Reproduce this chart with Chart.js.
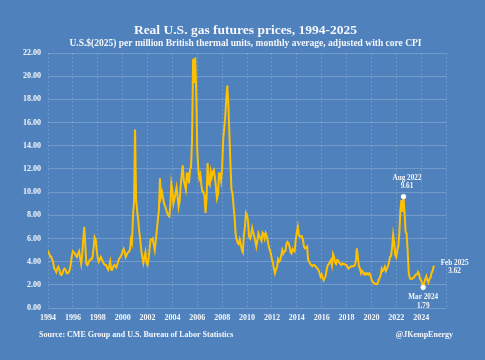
<!DOCTYPE html>
<html><head><meta charset="utf-8">
<script src="https://cdn.jsdelivr.net/npm/chart.js@4/dist/chart.umd.min.js"></script>
<style>html,body{margin:0;padding:0;background:#4F81BD;}#wrap{width:485px;height:360px;}</style>
</head><body><div id="wrap"><canvas id="c" width="485" height="360"></canvas></div>
<script>
const startYear = 1994;
const prices1994to1999 = [
  4.95, 4.7, 4.45, 4.45, 4.2, 3.9, 3.4, 3.3, 3.1, 3.4, 3.55, 3.3,
  2.9, 2.85, 3.0, 3.3, 3.4, 3.3, 3.0, 3.0, 3.1, 3.3, 3.8, 4.5,
  4.9, 4.8, 4.7, 4.5, 4.4, 4.7, 4.9, 4.3, 3.8, 4.6, 5.9, 7.0,
  5.4, 3.8, 3.7, 3.9, 4.1, 4.2, 4.2, 4.4, 5.2, 6.1, 5.9, 5.0,
  4.3, 4.0, 4.2, 4.4, 4.2, 4.0, 3.8, 3.7, 3.7, 3.5, 3.3, 3.6,
  4.0, 3.3, 3.3, 3.6, 3.7, 3.6, 3.5, 3.8, 4.1, 4.3, 4.4, 4.6
];
const prices2000to2009 = [
  4.9, 5.1, 4.8, 4.4, 4.6, 4.8, 4.85, 5.0, 5.9, 5.6, 7.9, 9.2,
  15.4, 9.3, 8.4, 7.6, 6.6, 5.9, 5.0, 4.4, 3.9, 4.4, 4.8, 3.9,
  3.7, 4.2, 5.1, 5.9, 5.9, 6.0, 5.5, 5.0, 5.8, 6.7, 7.6, 8.45,
  11.2, 9.6, 10.0, 9.5, 9.0, 8.8, 8.5, 8.2, 8.0, 7.9, 8.8, 10.75,
  10.2, 9.0, 9.4, 9.9, 10.4, 9.6, 8.7, 9.2, 10.5, 11.5, 12.3, 11.0,
  10.6, 10.2, 11.6, 11.6, 10.75, 11.9, 12.2, 14.5, 21.5, 19.4, 21.6, 18.8,
  13.6, 12.0, 11.2, 11.5, 10.6, 10.0, 10.0, 9.7, 8.2, 9.5, 12.5, 10.75,
  10.6, 11.75, 11.3, 11.75, 11.9, 11.3, 10.45, 9.45, 9.8, 11.6, 11.6, 11.0,
  12.0, 14.5, 15.5, 16.5, 18.0, 19.2, 17.5, 15.05, 12.5, 10.2, 9.9, 8.8,
  7.9, 6.4, 5.9, 5.6, 5.5, 5.9, 5.5, 5.0, 4.8, 6.3, 7.0, 8.2
];
const prices2010to2019 = [
  8.0, 7.5, 6.15, 6.0, 6.3, 6.9, 6.5, 6.2, 5.8, 5.3, 5.8, 6.45,
  6.2, 6.0, 5.8, 6.5, 6.4, 6.0, 6.45, 6.2, 5.8, 5.3, 5.0, 4.7,
  4.2, 3.85, 3.4, 3.0, 3.3, 3.56, 4.2, 4.0, 4.1, 4.5, 5.0, 4.7,
  4.9, 4.9, 5.5, 5.7, 5.6, 5.3, 4.8, 4.7, 5.1, 5.0, 4.9, 5.86,
  6.5, 7.0, 6.3, 6.15, 6.2, 6.2, 5.86, 5.3, 5.14, 5.2, 5.3, 4.14,
  4.0, 3.8, 3.7, 3.6, 3.7, 3.7, 3.6, 3.5, 3.4, 3.28, 3.0, 2.7,
  2.9, 2.6, 2.4, 2.6, 2.8, 3.4, 3.7, 3.8, 4.0, 4.14, 3.7, 4.65,
  4.4, 3.9, 3.8, 4.14, 4.1, 3.9, 3.8, 3.7, 3.85, 3.8, 3.8, 3.7,
  3.7, 3.5, 3.4, 3.5, 3.56, 3.6, 3.6, 3.6, 3.7, 4.0, 5.14, 4.4,
  3.6, 3.4, 3.0, 3.2, 3.1, 2.9, 3.0, 2.9, 3.0, 2.9, 3.0, 2.85
];
const prices2020to2025 = [
  2.5, 2.27, 2.2, 2.1, 2.1, 2.05, 2.1, 2.4, 2.6, 2.85, 3.4, 3.2,
  3.3, 3.56, 3.2, 3.4, 3.6, 3.97, 4.4, 4.5, 5.2, 6.3, 5.6, 4.6,
  4.4, 5.0, 5.3, 6.5, 8.45, 9.3, 8.3, 9.61, 8.2, 6.6, 6.4, 5.0,
  3.1, 2.6, 2.5, 2.5, 2.6, 2.6, 2.8, 2.9, 2.9, 3.1, 2.9, 2.5,
  2.4, 2.1, 1.79, 2.2, 2.5, 2.75, 2.4, 2.2, 2.5, 2.6, 3.0, 3.2,
  3.56, 3.62
];
const monthNames = ['Jan','Feb','Mar','Apr','May','Jun','Jul','Aug','Sep','Oct','Nov','Dec'];
const callouts = [
  {month: 'Aug', year: 2022, pos: 'above'},
  {month: 'Mar', year: 2024, pos: 'below'},
  {month: 'Feb', year: 2025, pos: 'right'}
];
const titleText = 'Real U.S. gas futures prices, 1994-2025';
const subtitleText = 'U.S.$(2025) per million British thermal units, monthly average, adjusted with core CPI';
const sourceText = 'Source: CME Group and U.S. Bureau of Labor Statistics';
const handleText = '@JKempEnergy';

const allPrices = [].concat(prices1994to1999, prices2000to2009, prices2010to2019, prices2020to2025);
const points = allPrices.map((v, i) => ({x: startYear + i / 12, y: v}));
function idxOf(c) { return (c.year - startYear) * 12 + monthNames.indexOf(c.month); }
const markerPoints = callouts.filter(c => c.pos !== 'right').map(c => points[idxOf(c)]);

const TXT = '#F4F6FA';
const SERIF = '"Liberation Serif", "DejaVu Serif", serif';

const textPlugin = {
  id: 'texts',
  afterDraw(chart) {
    const ctx = chart.ctx;
    const xs = chart.scales.x, ys = chart.scales.y;
    ctx.save();
    ctx.fillStyle = TXT;
    ctx.textAlign = 'center';
    ctx.textBaseline = 'middle';
    ctx.font = 'bold 13.5px ' + SERIF;
    ctx.fillText(titleText, 245.5, 30.5);
    ctx.font = 'bold 9.5px ' + SERIF;
    ctx.fillText(subtitleText, 245.5, 43.5);
    ctx.font = 'bold 8px ' + SERIF;
    ctx.textAlign = 'left';
    ctx.fillText(sourceText, 39, 335);
    ctx.textAlign = 'right';
    ctx.fillText(handleText, 453, 335);
    ctx.font = 'bold 7.2px ' + SERIF;
    ctx.textAlign = 'center';
    callouts.forEach(c => {
      const p = points[idxOf(c)];
      const px = xs.getPixelForValue(p.x), py = ys.getPixelForValue(p.y);
      const l1 = c.month + ' ' + c.year, l2 = p.y.toFixed(2);
      if (c.pos === 'above') {
        ctx.fillText(l1, px + 3.5, py - 18.5);
        ctx.fillText(l2, px + 3.5, py - 10);
      } else if (c.pos === 'below') {
        ctx.fillText(l1, px, py + 10);
        ctx.fillText(l2, px, py + 18.5);
      } else {
        ctx.fillText(l1, px + 20, py - 3);
        ctx.fillText(l2, px + 20, py + 5.5);
      }
    });
    ctx.restore();
  }
};

new Chart(document.getElementById('c'), {
  type: 'line',
  data: {
    datasets: [
      {
        type: 'scatter',
        data: markerPoints,
        pointRadius: 2.6,
        pointBackgroundColor: '#FFFFFF',
        pointBorderColor: '#FFFFFF',
        pointBorderWidth: 0,
        order: 0
      },
      {
        data: points,
        borderColor: '#FFC000',
        borderWidth: 2,
        pointRadius: 0,
        tension: 0,
        fill: false,
        order: 1
      }
    ]
  },
  options: {
    responsive: false,
    animation: false,
    devicePixelRatio: 1,
    layout: {padding: {top: 53, right: 39, bottom: 32, left: 0}},
    plugins: {legend: {display: false}, tooltip: {enabled: false}, title: {display: false}},
    scales: {
      x: {
        type: 'linear', min: 1994, max: 2026,
        afterFit(s) { s.height = 20; },
        ticks: {
          stepSize: 2, autoSkip: false, maxRotation: 0, padding: 5,
          color: TXT, font: {family: SERIF, size: 8, weight: 'bold'},
          callback: v => (v >= 2026 ? '' : String(v))
        },
        grid: {color: 'rgba(255,255,255,0.18)', drawTicks: false, lineWidth: 1},
        border: {display: false, dash: [2, 2]}
      },
      y: {
        min: 0, max: 22,
        afterFit(s) { s.width = 48; },
        ticks: {
          stepSize: 2, padding: 7,
          color: TXT, font: {family: SERIF, size: 8, weight: 'bold'},
          callback: v => v.toFixed(2)
        },
        grid: {color: 'rgba(255,255,255,0.2)', drawTicks: false, lineWidth: 1},
        border: {display: false}
      }
    }
  },
  plugins: [textPlugin]
});
</script>
</body></html>
